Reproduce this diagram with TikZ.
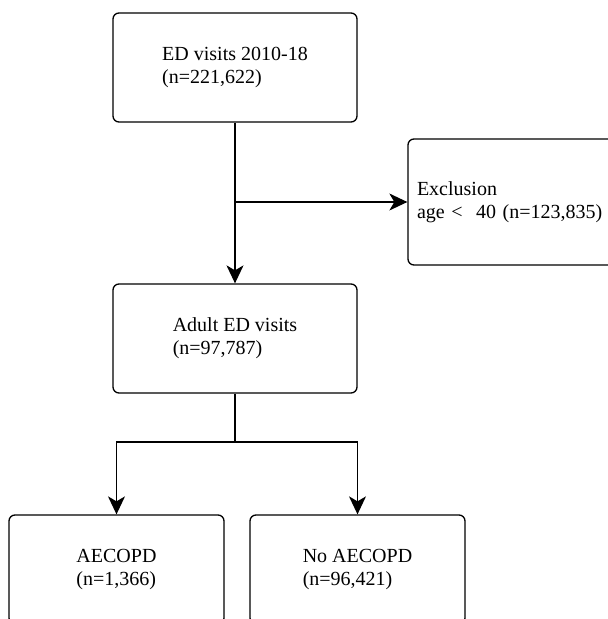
\documentclass[tikz,border=0pt]{standalone}
\usepackage{fontspec}
\setmainfont{Liberation Serif}
\usetikzlibrary{arrows.meta}
\begin{document}
\begin{tikzpicture}[x=1pt,y=-1pt,
  box/.style={draw, line width=1.3pt, rounded corners=6pt, align=left,
    font=\fontsize{20}{23}\selectfont, inner sep=0pt},
  arr/.style={line width=1.3pt, -{Stealth[length=18pt,width=17pt,inset=5pt]}},
  conn/.style={line width=1.3pt}]
\useasboundingbox (0,0) rectangle (608,619);
\clip (0,0) rectangle (608,619);
\node[box, minimum width=244pt, minimum height=109pt] (b1) at (235,67.5)
  {\raisebox{-3pt}{\begin{tabular}{@{}l@{}}ED visits 2010-18\\(n=221,622)\end{tabular}}};
\node[box, minimum width=244pt, minimum height=109pt] (b2) at (235,338.5)
  {\raisebox{-3pt}{\begin{tabular}{@{}l@{}}Adult ED visits\\(n=97,787)\end{tabular}}};
\node[box, text width=226pt, inner xsep=9pt, minimum height=126pt] (excl) at (530,202)
  {\raisebox{-2pt}{\begin{tabular}{@{}l@{}}Exclusion\\age <\ \ 40 (n=123,835)\end{tabular}}};
\node[box, minimum width=215pt, minimum height=109pt] (b3) at (116.5,569.5)
  {\raisebox{-3pt}{\begin{tabular}{@{}l@{}}AECOPD\\(n=1,366)\end{tabular}}};
\node[box, minimum width=215pt, minimum height=109pt] (b4) at (357.5,569.5)
  {\raisebox{-3pt}{\begin{tabular}{@{}l@{}}No AECOPD\\(n=96,421)\end{tabular}}};
\coordinate (split) at (235,442);
\draw[arr] (b1.south) -- (b2.north);
\draw[arr] (b1.south |- excl.west) -- (excl.west);
\draw[conn] (b2.south) -- (split);
\draw[arr] (split) -| (b3.north);
\draw[arr] (split) -| (b4.north);
\end{tikzpicture}
\end{document}
